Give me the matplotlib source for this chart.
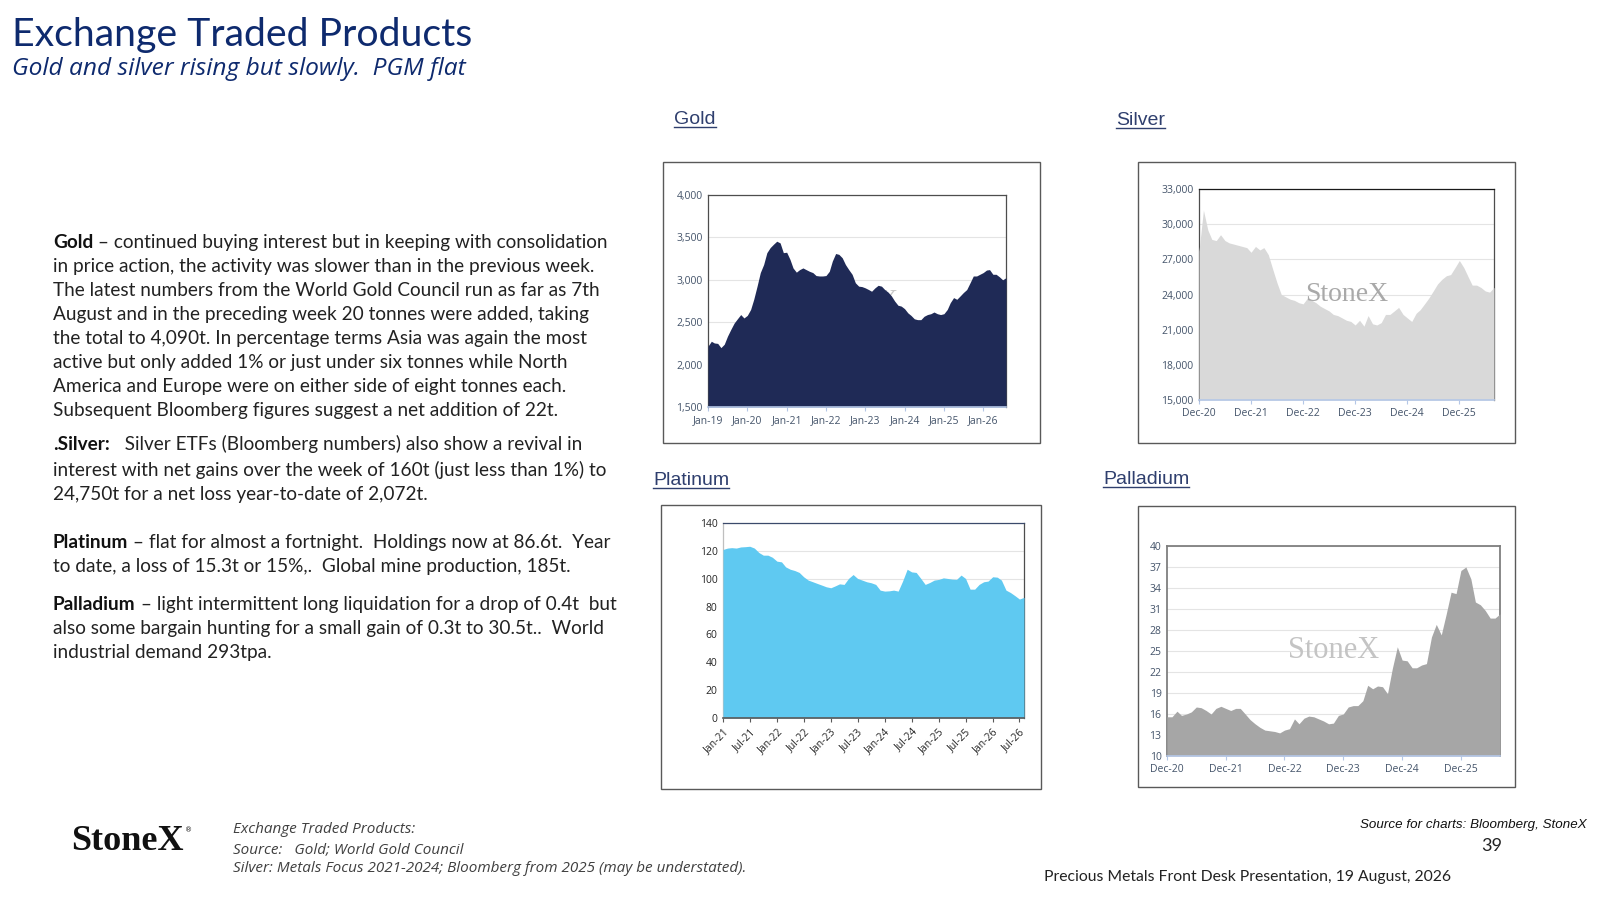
#!/usr/bin/env python3
"""StoneX slide: Exchange Traded Products - ETF holdings for gold, silver, platinum, palladium."""

import matplotlib
matplotlib.use("Agg")
import matplotlib.pyplot as plt
import matplotlib.dates as mdates
import pandas as pd
from matplotlib.lines import Line2D
from matplotlib.patches import Rectangle
from matplotlib.ticker import StrMethodFormatter

# ---- data, monthly ----
gold_start = "2019-01-01"
gold_tonnes = [
    2217, 2275, 2255, 2250, 2200, 2240, 2335, 2415, 2490, 2540, 2590, 2550,
    2580, 2650, 2770, 2925, 3085, 3180, 3320, 3380, 3420, 3455, 3435, 3320,
    3325, 3240, 3140, 3090, 3120, 3140, 3120, 3100, 3085, 3050, 3045, 3045,
    3050, 3100, 3220, 3310, 3300, 3260, 3180, 3120, 3065, 2965, 2925, 2920,
    2905, 2885, 2865, 2905, 2935, 2925, 2885, 2855, 2810, 2750, 2700, 2690,
    2660, 2610, 2580, 2540, 2530, 2530, 2570, 2590, 2600, 2620, 2600, 2590,
    2600, 2650, 2730, 2790, 2770, 2810, 2850, 2885, 2965, 3045, 3045, 3065,
    3085, 3115, 3120, 3065, 3065, 3035, 3000, 3025,
]
silver_start = "2020-12-01"
silver_tonnes = [
    27700,
    31200, 29500, 28700, 28600, 29100, 28600, 28400, 28300, 28200, 28100, 28000, 27600,
    28100, 27800, 28000, 27400, 26200, 25000, 24000, 23800, 23600, 23500, 23300, 23200,
    23700, 23500, 23300, 23000, 22800, 22600, 22300, 22200, 22000, 21800, 21700, 21400,
    21800, 21300, 22200, 21500, 21400, 21600, 22300, 22300, 22600, 22900, 22300, 22000,
    21700, 22400, 22700, 23200, 23700, 24300, 24900, 25300, 25600, 25700, 26300, 26900,
    26300, 25500, 24800, 24800, 24600, 24300, 24200, 24600,
]
platinum_start = "2021-01-01"
platinum_tonnes = [
    121, 122, 122.3, 122, 122.8, 123, 123.3, 122, 118.8, 116.9, 116.9, 115.4,
    112.6, 112.1, 108.5, 106.8, 105.9, 104.5, 101.4, 99, 97.8, 96.6, 95.4, 94.2,
    93.5, 94.9, 96.3, 95.9, 100.2, 103, 100.2, 99, 97.8, 97.1, 95.9, 91.8,
    91.1, 91.3, 91.8, 91.1, 98.3, 106.8, 104.9, 104.5, 100.2, 95.9, 97.3, 99,
    99.5, 100.6, 100.2, 99.7, 99.5, 102.6, 100.2, 92.5, 92.5, 95.9, 97.8, 98.3,
    101.4, 101.1, 99, 91.8, 90.1, 87.8, 85.4, 86.6,
]
palladium_start = "2020-12-01"
palladium_tonnes = [
    15.6,
    15.6, 16.4, 15.8, 16.0, 16.3, 17.0, 16.9, 16.5, 16.0, 16.8, 17.1, 16.8,
    16.5, 16.8, 16.8, 16.0, 15.2, 14.6, 14.1, 13.7, 13.6, 13.5, 13.3, 13.7,
    13.9, 15.3, 14.6, 15.4, 15.7, 15.6, 15.3, 15.0, 14.6, 14.7, 15.8, 16.0,
    17.0, 17.2, 17.2, 17.9, 20.1, 19.6, 20.0, 19.9, 18.9, 22.5, 25.6, 23.7,
    23.6, 22.6, 22.6, 23.0, 23.2, 27.0, 28.8, 27.3, 30.3, 33.4, 33.2, 36.5,
    37.0, 35.3, 32.0, 31.6, 30.8, 29.7, 29.7, 30.3,
]

gold_yticks = [1500, 2000, 2500, 3000, 3500, 4000]
silver_yticks = [15000, 18000, 21000, 24000, 27000, 30000, 33000]
platinum_yticks = [0, 20, 40, 60, 80, 100, 120, 140]
palladium_yticks = [10, 13, 16, 19, 22, 25, 28, 31, 34, 37, 40]

gold_xticks = pd.date_range("2019-01-01", "2026-01-01", freq="YS")
dec_xticks = pd.date_range("2020-12-01", "2025-12-01", freq="12MS")
platinum_xticks = pd.date_range("2021-01-01", "2026-07-01", freq="6MS")

title = "Exchange Traded Products"
subtitle = "Gold and silver rising but slowly.  PGM flat"
body = [
    ("Gold", " \u2013 continued buying interest but in keeping with consolidation"),
    ("", "in price action, the activity was slower than in the previous week."),
    ("", "The latest numbers from the World Gold Council run as far as 7th"),
    ("", "August and in the preceding week 20 tonnes were added, taking"),
    ("", "the total to 4,090t. In percentage terms Asia was again the most"),
    ("", "active but only added 1% or just under six tonnes while North"),
    ("", "America and Europe were on either side of eight tonnes each."),
    ("", "Subsequent Bloomberg figures suggest a net addition of 22t."),
    (".Silver:", "   Silver ETFs (Bloomberg numbers) also show a revival in"),
    ("", "interest with net gains over the week of 160t (just less than 1%) to"),
    ("", "24,750t for a net loss year-to-date of 2,072t."),
    ("Platinum", " \u2013 flat for almost a fortnight.  Holdings now at 86.6t.  Year"),
    ("", "to date, a loss of 15.3t or 15%,.  Global mine production, 185t."),
    ("Palladium", " \u2013 light intermittent long liquidation for a drop of 0.4t  but"),
    ("", "also some bargain hunting for a small gain of 0.3t to 30.5t..  World"),
    ("", "industrial demand 293tpa."),
]
body_baselines = [248, 272, 296, 320, 344, 368, 392, 416, 450, 476, 500, 548, 572, 610, 634, 658]
footnote = [
    "Exchange Traded Products:",
    "Source:   Gold; World Gold Council",
    "Silver: Metals Focus 2021-2024; Bloomberg from 2025 (may be understated).",
]

W, H = 1600, 900
NAVY = "#0e2a6e"
fig = plt.figure(figsize=(16, 9), dpi=100)
fig.patch.set_facecolor("white")
R = fig.canvas.get_renderer()


def rect(x0, y0, x1, y1):
    # pixel box (top-left origin) -> figure fraction
    return [x0 / W, 1 - y1 / H, (x1 - x0) / W, (y1 - y0) / H]


def put(x, y, s, size, **kw):
    kw.setdefault("va", "baseline")
    return fig.text(x / W, 1 - y / H, s, fontsize=size, **kw)


def px_width(t):
    return t.get_window_extent(R).width


def fit(t, target):
    t.set_fontsize(t.get_fontsize() * target / px_width(t))
    return t


# ---- heading ----
fit(put(12, 46, title, 30, family="Lato", color=NAVY), 460)
fit(put(12, 75, subtitle, 17, family="Open Sans", style="italic", color=NAVY), 454)

# ---- body text ----
probe = fit(put(53, body_baselines[1], body[1][1], 14, family="Lato", color="#222222"), 544)
body_size = probe.get_fontsize()
probe.remove()
for (bold, rest), yb in zip(body, body_baselines):
    x = 53
    if bold:
        b = put(x, yb, bold, body_size, family="Lato", weight="bold", color="#111111")
        x += px_width(b)
    put(x, yb, rest, body_size, family="Lato", color="#222222")


# ---- charts ----
def frame(x0, y0, x1, y1):
    fig.add_artist(Rectangle((x0 / W, 1 - y1 / H), (x1 - x0) / W, (y1 - y0) / H,
                             transform=fig.transFigure, fill=False,
                             edgecolor="#595959", lw=1.0))


def chart_title(x, yb, s):
    t = put(x, yb, s, 14, family="Liberation Sans", color="#2f3f6e")
    bb = t.get_window_extent(R)
    yl = 1 - (yb + 3) / H
    fig.add_artist(Line2D([bb.x0 / W, bb.x1 / W], [yl, yl],
                          transform=fig.transFigure, color="#2f3f6e", lw=1))


def area_chart(box, start, values, color, yticks, xticks, xfmt, ylabel_fmt,
               label_color="#44546a", bottom_color="#b4c7e7", rot=0, size=7.5):
    ax = fig.add_axes(rect(*box))
    dates = pd.date_range(start, periods=len(values), freq="MS")
    ax.fill_between(dates, values, yticks[0], color=color, lw=0, zorder=3)
    ax.set_xlim(dates[0], dates[-1])
    ax.set_ylim(yticks[0], yticks[-1])
    ax.set_yticks(yticks)
    ax.yaxis.set_major_formatter(StrMethodFormatter(ylabel_fmt))
    ax.set_xticks(xticks)
    ax.xaxis.set_major_formatter(mdates.DateFormatter(xfmt))
    ax.grid(axis="y", color="#e4e4e4", lw=0.8, zorder=1)
    ax.set_axisbelow(True)
    for side in ("top", "right", "left"):
        ax.spines[side].set_color("#4d4d4d")
        ax.spines[side].set_linewidth(0.9)
    ax.spines["bottom"].set_color(bottom_color)
    ax.spines["bottom"].set_linewidth(1.2)
    ax.spines["bottom"].set_zorder(4)
    ax.tick_params(axis="y", length=0, pad=4, labelsize=size, labelcolor=label_color)
    ax.tick_params(axis="x", length=3, color=bottom_color, pad=3,
                   labelsize=size, labelcolor=label_color)
    if rot:
        for lab in ax.get_xticklabels():
            lab.set_rotation(rot)
            lab.set_ha("right")
            lab.set_rotation_mode("anchor")
    for lab in ax.get_xticklabels() + ax.get_yticklabels():
        lab.set_family("Open Sans")
    return ax


def watermark(ax, size, color, z):
    ax.text(0.5, 0.5, "StoneX", transform=ax.transAxes, ha="center", va="center",
            family="Liberation Serif", fontsize=size, color=color, zorder=z)


# Gold
frame(663, 162, 1040, 443)
chart_title(674, 124, "Gold")
ax = area_chart((708, 195, 1006, 407), gold_start, gold_tonnes, "#1f2a56",
                gold_yticks, gold_xticks, "%b-%y", "{x:,.0f}")
watermark(ax, 20, "#c8c8c8", 2)

# Silver
frame(1138, 162, 1515, 443)
chart_title(1116, 125, "Silver")
ax = area_chart((1199, 189, 1494, 400), silver_start, silver_tonnes, "#d9d9d9",
                silver_yticks, dec_xticks, "%b-%y", "{x:,.0f}")
ax.spines["top"].set_color("#1a1a1a")
watermark(ax, 20, "#a9a9a9", 5)

# Platinum
frame(661, 505, 1041, 789)
chart_title(653, 485, "Platinum")
ax = area_chart((723, 523, 1024, 718), platinum_start, platinum_tonnes, "#5fc9f1",
                platinum_yticks, platinum_xticks, "%b-%y", "{x:.0f}",
                label_color="#262626", bottom_color="#595959", rot=45, size=7.5)
ax.spines["top"].set_color("#3b4a6b")
ax.spines["left"].set_color("#bfbfbf")

# Palladium
frame(1138, 506, 1515, 787)
chart_title(1103, 484, "Palladium")
ax = area_chart((1167, 546, 1500, 756), palladium_start, palladium_tonnes, "#a6a6a6",
                palladium_yticks, dec_xticks, "%b-%y", "{x:.0f}", size=7.5)
for side in ("top", "right", "left"):
    ax.spines[side].set_color("#7f7f7f")
    ax.spines[side].set_linewidth(1.3)
watermark(ax, 22, "#c4c4c4", 5)

# ---- footer ----
logo = fit(put(71, 850, "StoneX", 24, family="Liberation Serif", weight="bold",
               color="#111111"), 113)
put(71 + px_width(logo) + 1, 832, "\u00ae", 5, family="DejaVu Sans", color="#111111")
note = [put(233, yb, s, 10, family="Open Sans", style="italic", color="#404040")
        for s, yb in zip(footnote, [833, 853, 872])]
k = 515 / px_width(note[2])
for t in note:
    t.set_fontsize(t.get_fontsize() * k)
fit(put(1587, 828, "Source for charts: Bloomberg, StoneX", 9.5,
        family="Liberation Sans", style="italic", color="#111111", ha="right"), 225)
put(1492, 851, "39", 13, family="Lato", color="#222222", ha="center")
fit(put(1044, 881, "Precious Metals Front Desk Presentation, 19 August, 2026", 11,
        family="Lato", color="#222222"), 405)

fig.savefig("out.png", dpi=100, facecolor="white")
